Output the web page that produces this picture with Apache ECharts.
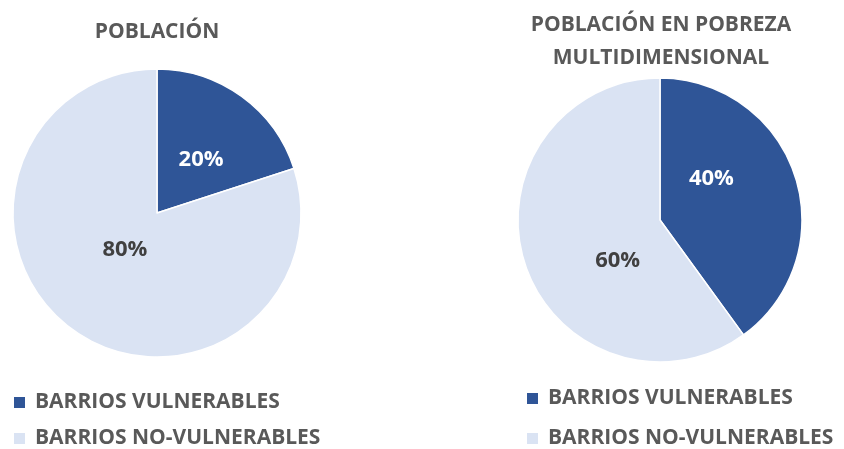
<!DOCTYPE html>
<html>
<head>
<meta charset="utf-8">
<script src="https://cdn.jsdelivr.net/npm/echarts@6/dist/echarts.min.js"></script>
<style>
  html, body { margin: 0; padding: 0; background: #fff; }
  #chart { width: 844px; height: 449px; }
</style>
</head>
<body>
<div id="chart"></div>
<script>
const categories = ['BARRIOS VULNERABLES', 'BARRIOS NO-VULNERABLES']
const poblacion = [20, 80]
const pobreza = [40, 60]
const titles = ['POBLACIÓN', 'POBLACIÓN EN POBREZA\nMULTIDIMENSIONAL']

const FONT = '"Open Sans", "Liberation Sans", sans-serif'
const GRAY = '#595959'
const colors = ['#2F5597', '#DAE3F3']
const labelColors = ['#ffffff', '#404040']

function pieData (values, offsets) {
  return values.map((v, i) => ({
    name: categories[i],
    value: v,
    label: { color: labelColors[i], offset: offsets[i] }
  }))
}

// one legend box per entry so each can be placed like the original
function legendItem (name, left, centerY) {
  return {
    left: left,
    top: centerY - 15,
    itemWidth: 13,
    itemHeight: 13,
    icon: 'rect',
    selectedMode: false,
    data: [name],
    textStyle: { fontFamily: FONT, fontWeight: 'bold', fontSize: 21, color: GRAY, padding: [0, 0, 0, 4] }
  }
}

let chart = echarts.init(document.getElementById('chart'))
let option = {
  color: colors,
  animation: false,
  title: [
    {
      text: titles[0],
      left: 152,
      top: 17,
      textAlign: 'center',
      textStyle: { fontFamily: FONT, fontWeight: 'bold', fontSize: 21, color: GRAY }
    },
    {
      text: titles[1],
      left: 656,
      top: 4,
      textAlign: 'center',
      textStyle: { fontFamily: FONT, fontWeight: 'bold', fontSize: 21, color: GRAY, lineHeight: 33 }
    }
  ],
  legend: [
    legendItem(categories[0], 7, 402),
    legendItem(categories[1], 7, 438),
    legendItem(categories[0], 520, 398),
    legendItem(categories[1], 520, 438)
  ],
  series: [
    {
      name: titles[0],
      type: 'pie',
      center: [157, 213],
      radius: 144,
      startAngle: 90,
      clockwise: true,
      itemStyle: { borderColor: '#fff', borderWidth: 1.5 },
      label: {
        position: 'inside',
        formatter: '{c}%',
        fontFamily: FONT,
        fontWeight: 'bold',
        fontSize: 22
      },
      labelLine: { show: false },
      emphasis: { disabled: true },
      data: pieData(poblacion, [[0, 7], [12, -24]])
    },
    {
      name: titles[1],
      type: 'pie',
      center: [660, 220],
      radius: 142,
      startAngle: 90,
      clockwise: true,
      itemStyle: { borderColor: '#fff', borderWidth: 1.5 },
      label: {
        position: 'inside',
        formatter: '{c}%',
        fontFamily: FONT,
        fontWeight: 'bold',
        fontSize: 22
      },
      labelLine: { show: false },
      emphasis: { disabled: true },
      data: pieData(pobreza, [[-19, -18], [28, 18]])
    }
  ]
}
chart.setOption(option)
window.addEventListener('resize', () => chart.resize())
</script>
</body>
</html>
